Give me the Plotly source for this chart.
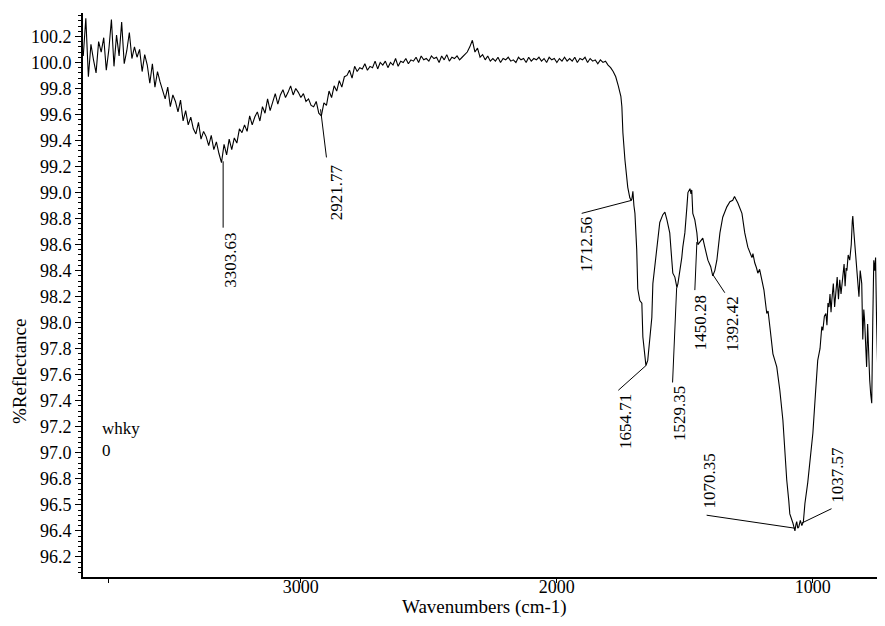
import plotly.graph_objects as go

# ---------------- data ----------------
# Region 1: 3850 -> 1760 cm-1 sampled every 10 cm-1 (%Reflectance)
R_REGION1 = [
    100.05, 100.34, 99.89, 100.14, 100.02, 99.92, 100.16, 100.08, 100.19, 99.94,
    100.10, 100.33, 99.97, 100.21, 100.05, 100.31, 99.99, 100.09, 100.23, 100.03,
    100.12, 100.04, 100.10, 99.93, 100.06, 99.98, 99.84, 99.99, 99.81, 99.93,
    99.85, 99.78, 99.72, 99.81, 99.66, 99.75, 99.70, 99.62, 99.71, 99.55,
    99.63, 99.52, 99.58, 99.49, 99.45, 99.54, 99.41, 99.47, 99.43, 99.36,
    99.44, 99.33, 99.39, 99.30, 99.23, 99.37, 99.29, 99.41, 99.33, 99.42,
    99.38, 99.49, 99.46, 99.52, 99.47, 99.59, 99.52, 99.58, 99.62, 99.55,
    99.66, 99.61, 99.72, 99.63, 99.69, 99.76, 99.68, 99.75, 99.79, 99.73,
    99.77, 99.82, 99.75, 99.80, 99.77, 99.73, 99.76, 99.70, 99.72, 99.67,
    99.66, 99.70, 99.61, 99.59, 99.69, 99.67, 99.78, 99.73, 99.82, 99.78,
    99.86, 99.81, 99.89, 99.90, 99.94, 99.88, 99.97, 99.93, 99.96, 99.95,
    99.99, 99.94, 99.97, 99.96, 100.01, 99.95, 100.00, 99.98, 100.01, 99.96,
    100.00, 99.98, 100.03, 99.97, 100.01, 100.00, 100.03, 99.99, 100.02, 100.01,
    100.04, 100.00, 100.05, 100.02, 100.03, 100.01, 100.05, 100.03, 100.04, 100.00,
    100.05, 100.02, 100.06, 100.01, 100.04, 100.03, 100.05, 100.02, 100.04, 100.06,
    100.08, 100.12, 100.17, 100.08, 100.11, 100.04, 100.06, 100.02, 100.05, 100.01,
    100.03, 100.01, 100.04, 100.00, 100.03, 100.02, 100.04, 100.01, 100.02, 100.00,
    100.04, 100.02, 100.03, 100.00, 100.04, 100.01, 100.03, 100.02, 100.04, 100.01,
    100.03, 100.00, 100.04, 100.02, 100.03, 100.00, 100.03, 100.01, 100.04, 100.01,
    100.03, 100.01, 100.04, 100.00, 100.03, 100.02, 100.04, 100.00, 100.03, 100.01,
    100.02, 99.99, 100.02, 100.00, 100.01, 99.98, 99.96, 99.93, 99.89, 99.82,
]
REGION1_START = 3850
REGION1_STEP = 10

# Region 2: band region, (wavenumber, %Reflectance) pairs
WN_REGION2 = [
    1750, 1746, 1742, 1734, 1727, 1723, 1715, 1710, 1707, 1703, 1699, 1695, 1688, 1684,
    1676, 1668, 1664, 1656, 1652, 1645, 1637, 1629, 1625, 1617, 1609, 1605, 1598, 1586,
    1578, 1570, 1559, 1551, 1547, 1539, 1531, 1527, 1520, 1512, 1508, 1500, 1492, 1488,
    1480, 1476, 1473, 1469, 1461, 1453, 1449, 1441, 1430, 1422, 1410, 1399, 1391, 1383,
    1375, 1363, 1352, 1336, 1324, 1313, 1306, 1301, 1293, 1277, 1266, 1254, 1238, 1234,
    1227, 1220, 1215, 1208, 1199, 1191, 1180, 1175, 1168, 1156, 1141, 1129, 1117, 1109,
    1102, 1094, 1090, 1078, 1074, 1070, 1066, 1063, 1059, 1055, 1049, 1043, 1037, 1031,
    1020, 1000, 990, 981, 972, 965, 961, 955, 949, 945, 941, 937, 933, 929,
    926, 920, 915, 910, 905, 900, 895, 890, 883, 878, 874, 870, 867, 862,
    856, 850, 846, 844, 840, 837, 833, 829, 825, 820, 815, 809, 805, 801,
    798, 794, 790, 786, 782, 778, 774, 770, 766, 762, 758, 755, 751, 747,
    743, 739, 735, 731, 727, 723, 720,
]
R_REGION2 = [
    99.74, 99.66, 99.46, 99.25, 99.12, 99.04, 98.96, 98.94, 98.95, 99.01, 98.90, 98.84, 98.56, 98.26,
    98.17, 98.15, 97.89, 97.73, 97.67, 97.71, 97.87, 98.04, 98.30, 98.45, 98.60, 98.69, 98.77, 98.83,
    98.85, 98.79, 98.69, 98.48, 98.38, 98.35, 98.27, 98.30, 98.38, 98.50, 98.58, 98.69, 98.89, 99.00,
    99.03, 98.99, 99.02, 98.84, 98.79, 98.69, 98.60, 98.62, 98.65, 98.58, 98.48, 98.43, 98.36, 98.40,
    98.48, 98.69, 98.81, 98.89, 98.93, 98.94, 98.97, 98.95, 98.92, 98.84, 98.69, 98.58, 98.50, 98.53,
    98.46, 98.42, 98.38, 98.41, 98.33, 98.25, 98.07, 98.09, 97.97, 97.76, 97.66, 97.48, 97.25, 97.00,
    96.79, 96.63, 96.53, 96.46, 96.43, 96.40, 96.45, 96.47, 96.42, 96.43, 96.48, 96.44, 96.47, 96.61,
    96.77, 97.15, 97.45, 97.71, 97.80, 97.97, 97.94, 98.05, 98.07, 97.98, 98.15, 98.12, 98.22, 98.08,
    98.17, 98.30, 98.12, 98.25, 98.35, 98.18, 98.33, 98.22, 98.36, 98.45, 98.28, 98.42, 98.40, 98.52,
    98.48, 98.60, 98.78, 98.82, 98.70, 98.63, 98.50, 98.43, 98.30, 98.20, 98.40, 98.30, 97.87, 98.10,
    98.02, 97.75, 97.66, 97.99, 97.70, 97.56, 97.45, 97.38, 98.00, 98.48, 98.40, 98.50, 98.00, 97.56,
    97.30, 97.00, 97.70, 98.02, 97.30, 97.69, 97.50,
]

# Y tick labels as printed on the original axis (evenly spaced marks)
Y_TICK_TEXT = ["100.2", "100.0", "99.8", "99.6", "99.4", "99.2", "99.0", "98.8", "98.6",
               "98.4", "98.2", "98.0", "97.8", "97.6", "97.4", "97.2", "97.0", "96.8",
               "96.5", "96.4", "96.2"]
X_TICK_TEXT = ["", "3000", "2000", "1000"]
X_TICK_VALS = [3750, 3000, 2000, 1000]

# Peak labels
PEAK_LABELS = ["3303.63", "2921.77", "1712.56", "1654.71", "1529.35",
               "1450.28", "1392.42", "1070.35", "1037.57"]

# ---------------- layout helpers (label placement) ----------------
# (line start x, y) on spectrum, (line end x, y), (text x, y, yanchor)
LEADERS = [
    ((3303.63, 99.24), (3303.63, 98.73), (3273, 98.71, "top")),
    ((2923, 99.64), (2900, 99.27), (2860, 99.23, "top")),
    ((1708, 98.94), (1903, 98.84), (1887, 98.83, "top")),
    ((1652, 97.67), (1760, 97.48), (1734, 97.47, "top")),
    ((1532, 98.27), (1548, 97.54), (1520, 97.53, "top")),
    ((1453, 98.62), (1461, 98.25), (1441, 98.23, "top")),
    ((1391, 98.37), (1344, 98.23), (1312, 98.22, "top")),
    ((1070, 96.42), (1415, 96.52), (1402, 96.56, "bottom")),
    ((1043, 96.46), (927, 96.57), (902, 96.60, "bottom")),
]

x1 = [REGION1_START - REGION1_STEP * i for i in range(len(R_REGION1))]
wn = x1 + WN_REGION2
refl = R_REGION1 + R_REGION2

SERIF = "Liberation Serif, Times New Roman, serif"

# page body has an 8px margin: the figure starts at (8, 8) in the screenshot;
# keep the figure inside the window so no scrollbars appear
OFF = 8
W, H = 885 - 2 * OFF, 626 - 2 * OFF
# plot area in screenshot pixels: left 83, top 13, bottom 577, right = figure edge
ML, MR, MT, MB = 83 - OFF, 0, 13 - OFF, H - (577 - OFF)
PW, PH = W - ML - MR, H - MT - MB
PX_PER_WN = 0.256          # horizontal scale of the original (px per cm-1)
X_LEFT = 3851
X_RIGHT = X_LEFT - PW / PX_PER_WN


def px_to_paper(px, py):
    return (px - OFF - ML) / PW, (H - MB - (py - OFF)) / PH


fig = go.Figure()
fig.add_trace(go.Scatter(x=wn, y=refl, mode="lines",
                         line=dict(color="black", width=1.1), hoverinfo="skip",
                         showlegend=False))

shapes = []
annotations = []
for label, (p0, p1, t) in zip(PEAK_LABELS, LEADERS):
    shapes.append(dict(type="line", xref="x", yref="y", x0=p0[0], y0=p0[1],
                       x1=p1[0], y1=p1[1], line=dict(color="black", width=1)))
    annotations.append(dict(x=t[0], y=t[1], xref="x", yref="y", text=label,
                            showarrow=False, textangle=-90, xanchor="center",
                            yanchor=t[2], font=dict(family=SERIF, size=17, color="black")))

annotations.append(dict(x=3785, y=97.1, xref="x", yref="y", text="whky<br>0",
                        showarrow=False, xanchor="left", yanchor="middle", align="left",
                        font=dict(family=SERIF, size=17, color="black")))

yt_x, yt_y = px_to_paper(19, 372)
annotations.append(dict(x=yt_x, y=yt_y, xref="paper", yref="paper", text="%Reflectance",
                        showarrow=False, textangle=-90, xanchor="center", yanchor="middle",
                        font=dict(family=SERIF, size=19, color="black")))
xt_x, xt_y = px_to_paper(484, 607)
annotations.append(dict(x=xt_x, y=xt_y, xref="paper", yref="paper", text="Wavenumbers (cm-1)",
                        showarrow=False, xanchor="center", yanchor="middle",
                        font=dict(family=SERIF, size=19, color="black")))

fig.update_layout(
    width=W, height=H,
    margin=dict(l=ML, r=MR, t=MT, b=MB, pad=0, autoexpand=False),
    paper_bgcolor="white", plot_bgcolor="white",
    font=dict(family=SERIF, size=18, color="black"),
    shapes=shapes, annotations=annotations,
    xaxis=dict(range=[X_LEFT, X_RIGHT], showgrid=False, zeroline=False, automargin=False,
               showline=True, linecolor="black", linewidth=2,
               tickmode="array", tickvals=X_TICK_VALS, ticktext=X_TICK_TEXT,
               ticks="outside", ticklen=4, tickwidth=1, tickcolor="black",
               ticklabelstandoff=-12,
               tickfont=dict(family=SERIF, size=18)),
    yaxis=dict(range=[96.045, 100.38], showgrid=False, zeroline=False, automargin=False,
               showline=True, linecolor="black", linewidth=2,
               tickmode="array",
               tickvals=[round(100.2 - 0.2 * i, 2) for i in range(len(Y_TICK_TEXT))],
               ticktext=Y_TICK_TEXT,
               ticks="outside", ticklen=6, tickwidth=1, tickcolor="black",
               tickfont=dict(family=SERIF, size=18),
               minor=dict(tickmode="linear", tick0=96.2, dtick=0.04, ticks="outside",
                          ticklen=3, tickwidth=1, tickcolor="black", showgrid=False)),
)

fig.write_html("out.html")
